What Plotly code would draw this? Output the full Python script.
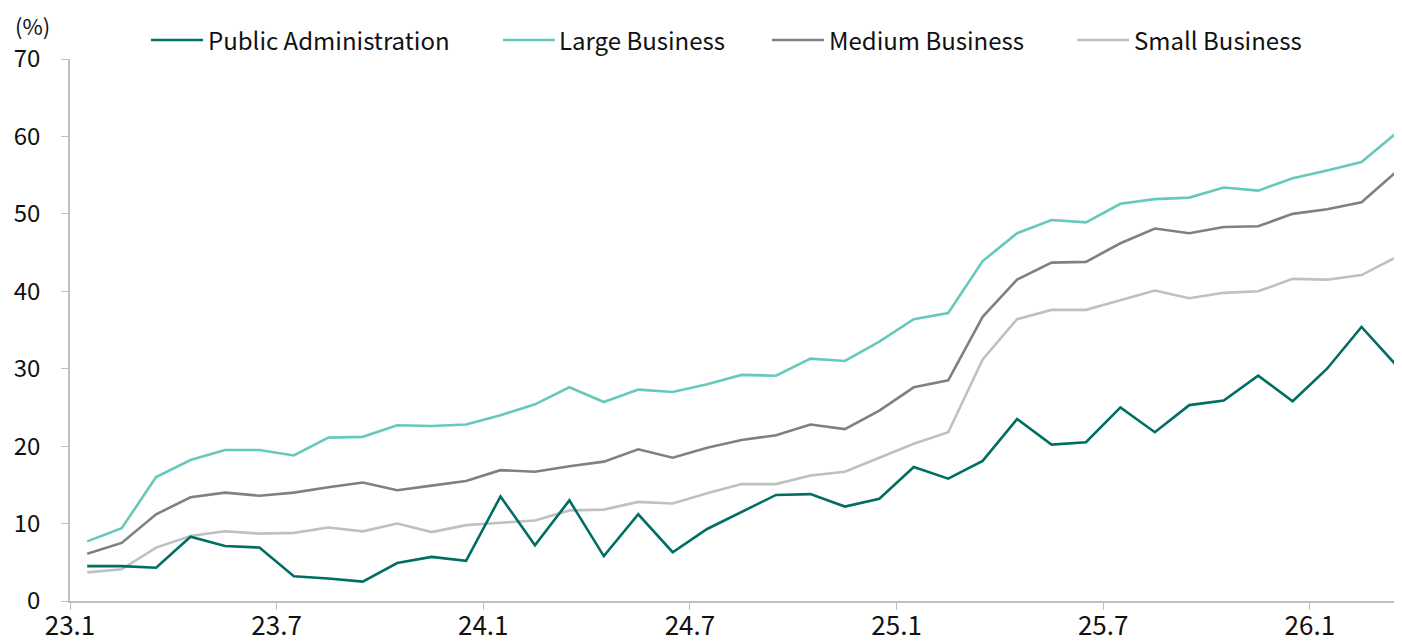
import plotly.graph_objects as go

months = [f"{y}.{m}" for y in (23, 24, 25) for m in range(1, 13)] + ["26.1", "26.2", "26.3"]

public_admin = [4.5, 4.5, 4.3, 8.3, 7.1, 6.9, 3.2, 2.9, 2.5, 4.9, 5.7, 5.2,
                13.5, 7.2, 13.0, 5.8, 11.2, 6.3, 9.3, 11.5, 13.7, 13.8, 12.2, 13.2,
                17.3, 15.8, 18.1, 23.5, 20.2, 20.5, 25.0, 21.8, 25.3, 25.9, 29.1, 25.8,
                30.0, 35.4, 30.5]
large_business = [7.7, 9.4, 16.0, 18.2, 19.5, 19.5, 18.8, 21.1, 21.2, 22.7, 22.6, 22.8,
                  24.0, 25.4, 27.6, 25.7, 27.3, 27.0, 28.0, 29.2, 29.1, 31.3, 31.0, 33.5,
                  36.4, 37.2, 43.9, 47.5, 49.2, 48.9, 51.3, 51.9, 52.1, 53.4, 53.0, 54.6,
                  55.6, 56.7, 60.4]
medium_business = [6.1, 7.5, 11.2, 13.4, 14.0, 13.6, 14.0, 14.7, 15.3, 14.3, 14.9, 15.5,
                   16.9, 16.7, 17.4, 18.0, 19.6, 18.5, 19.8, 20.8, 21.4, 22.8, 22.2, 24.6,
                   27.6, 28.5, 36.7, 41.5, 43.7, 43.8, 46.2, 48.1, 47.5, 48.3, 48.4, 50.0,
                   50.6, 51.5, 55.4]
small_business = [3.7, 4.1, 6.9, 8.4, 9.0, 8.7, 8.8, 9.5, 9.0, 10.0, 8.9, 9.8,
                  10.1, 10.4, 11.7, 11.8, 12.8, 12.6, 13.9, 15.1, 15.1, 16.2, 16.7, 18.5,
                  20.3, 21.8, 31.2, 36.4, 37.6, 37.6, 38.9, 40.1, 39.1, 39.8, 40.0, 41.6,
                  41.5, 42.1, 44.4]

series_names = ["Public Administration", "Large Business", "Medium Business", "Small Business"]
series_values = [public_admin, large_business, medium_business, small_business]
series_colors = ["#006E62", "#66C9BB", "#808080", "#C0C0C0"]

tick_labels = ["23.1", "23.7", "24.1", "24.7", "25.1", "25.7", "26.1"]
y_ticks = [0, 10, 20, 30, 40, 50, 60, 70]

FONT = "Noto Sans CJK KR"
FS = 24
# page body has an 8px default margin; size the figure so it fills the window
O = 8
SW, SH = 1402, 641            # window size
W, H = SW - O, SH - O         # figure size
# plot area in window pixels: x 70..1402, y 59..601
L, R, T, B = 70 - O, 0, 59 - O, SH - 601
PW, PH = W - L - R, H - T - B

def xp(px):
    return (px - O - L) / PW

def yp(py):
    return (H - B - (py - O)) / PH

x_idx = list(range(len(months)))
tick_pos = [months.index(t) - 0.5 for t in tick_labels]

fig = go.Figure()
# draw order: small, medium, large, public on top
for k in [3, 2, 1, 0]:
    fig.add_trace(go.Scatter(
        x=x_idx, y=series_values[k], mode="lines", name=series_names[k],
        line=dict(color=series_colors[k], width=2.6), showlegend=False,
        hovertext=months,
    ))

# custom legend
legend_items = [(151, 203, 207), (503, 555, 558), (772, 824, 828), (1077, 1129, 1133)]
shapes = []
annotations = []
for (x0, x1, xt), name, col in zip(legend_items, series_names, series_colors):
    shapes.append(dict(type="line", xref="paper", yref="paper",
                       x0=xp(x0), x1=xp(x1), y0=yp(40), y1=yp(40),
                       line=dict(color=col, width=2.6)))
    annotations.append(dict(xref="paper", yref="paper", x=xp(xt), y=yp(40),
                            text=name, showarrow=False, xanchor="left", yanchor="middle",
                            borderpad=0,
                            font=dict(family=FONT, size=FS, color="#111111")))

annotations.append(dict(xref="paper", yref="paper", x=xp(32), y=yp(8),
                        text="(%)", showarrow=False, xanchor="center", yanchor="top",
                        borderpad=0,
                        font=dict(family=FONT, size=22, color="#111111")))

fig.update_layout(
    width=W, height=H,
    margin=dict(l=L, r=R, t=T, b=B, pad=0, autoexpand=False),
    paper_bgcolor="white", plot_bgcolor="white",
    font=dict(family=FONT, size=FS, color="#111111"),
    shapes=shapes, annotations=annotations,
    showlegend=False,
)
fig.update_xaxes(
    range=[-0.5, -0.5 + PW / 34.44],
    tickmode="array", tickvals=tick_pos, ticktext=tick_labels,
    showline=True, linecolor="#BFBFBF", linewidth=1.5,
    ticks="outside", ticklen=7, tickcolor="#BFBFBF", tickwidth=1.2,
    showgrid=False, zeroline=False, automargin=False,
    tickfont=dict(family=FONT, size=26, color="#111111"),
    ticklabelstandoff=-6,
)
fig.update_yaxes(
    range=[0, 70],
    tickmode="array", tickvals=y_ticks, ticktext=[str(v) for v in y_ticks],
    showline=True, linecolor="#BFBFBF", linewidth=1.5,
    ticks="outside", ticklen=7, tickcolor="#BFBFBF", tickwidth=1.2,
    showgrid=False, zeroline=False, automargin=False,
    tickfont=dict(family=FONT, size=FS, color="#111111"),
    ticklabelstandoff=16,
)

fig.write_html("out.html")
